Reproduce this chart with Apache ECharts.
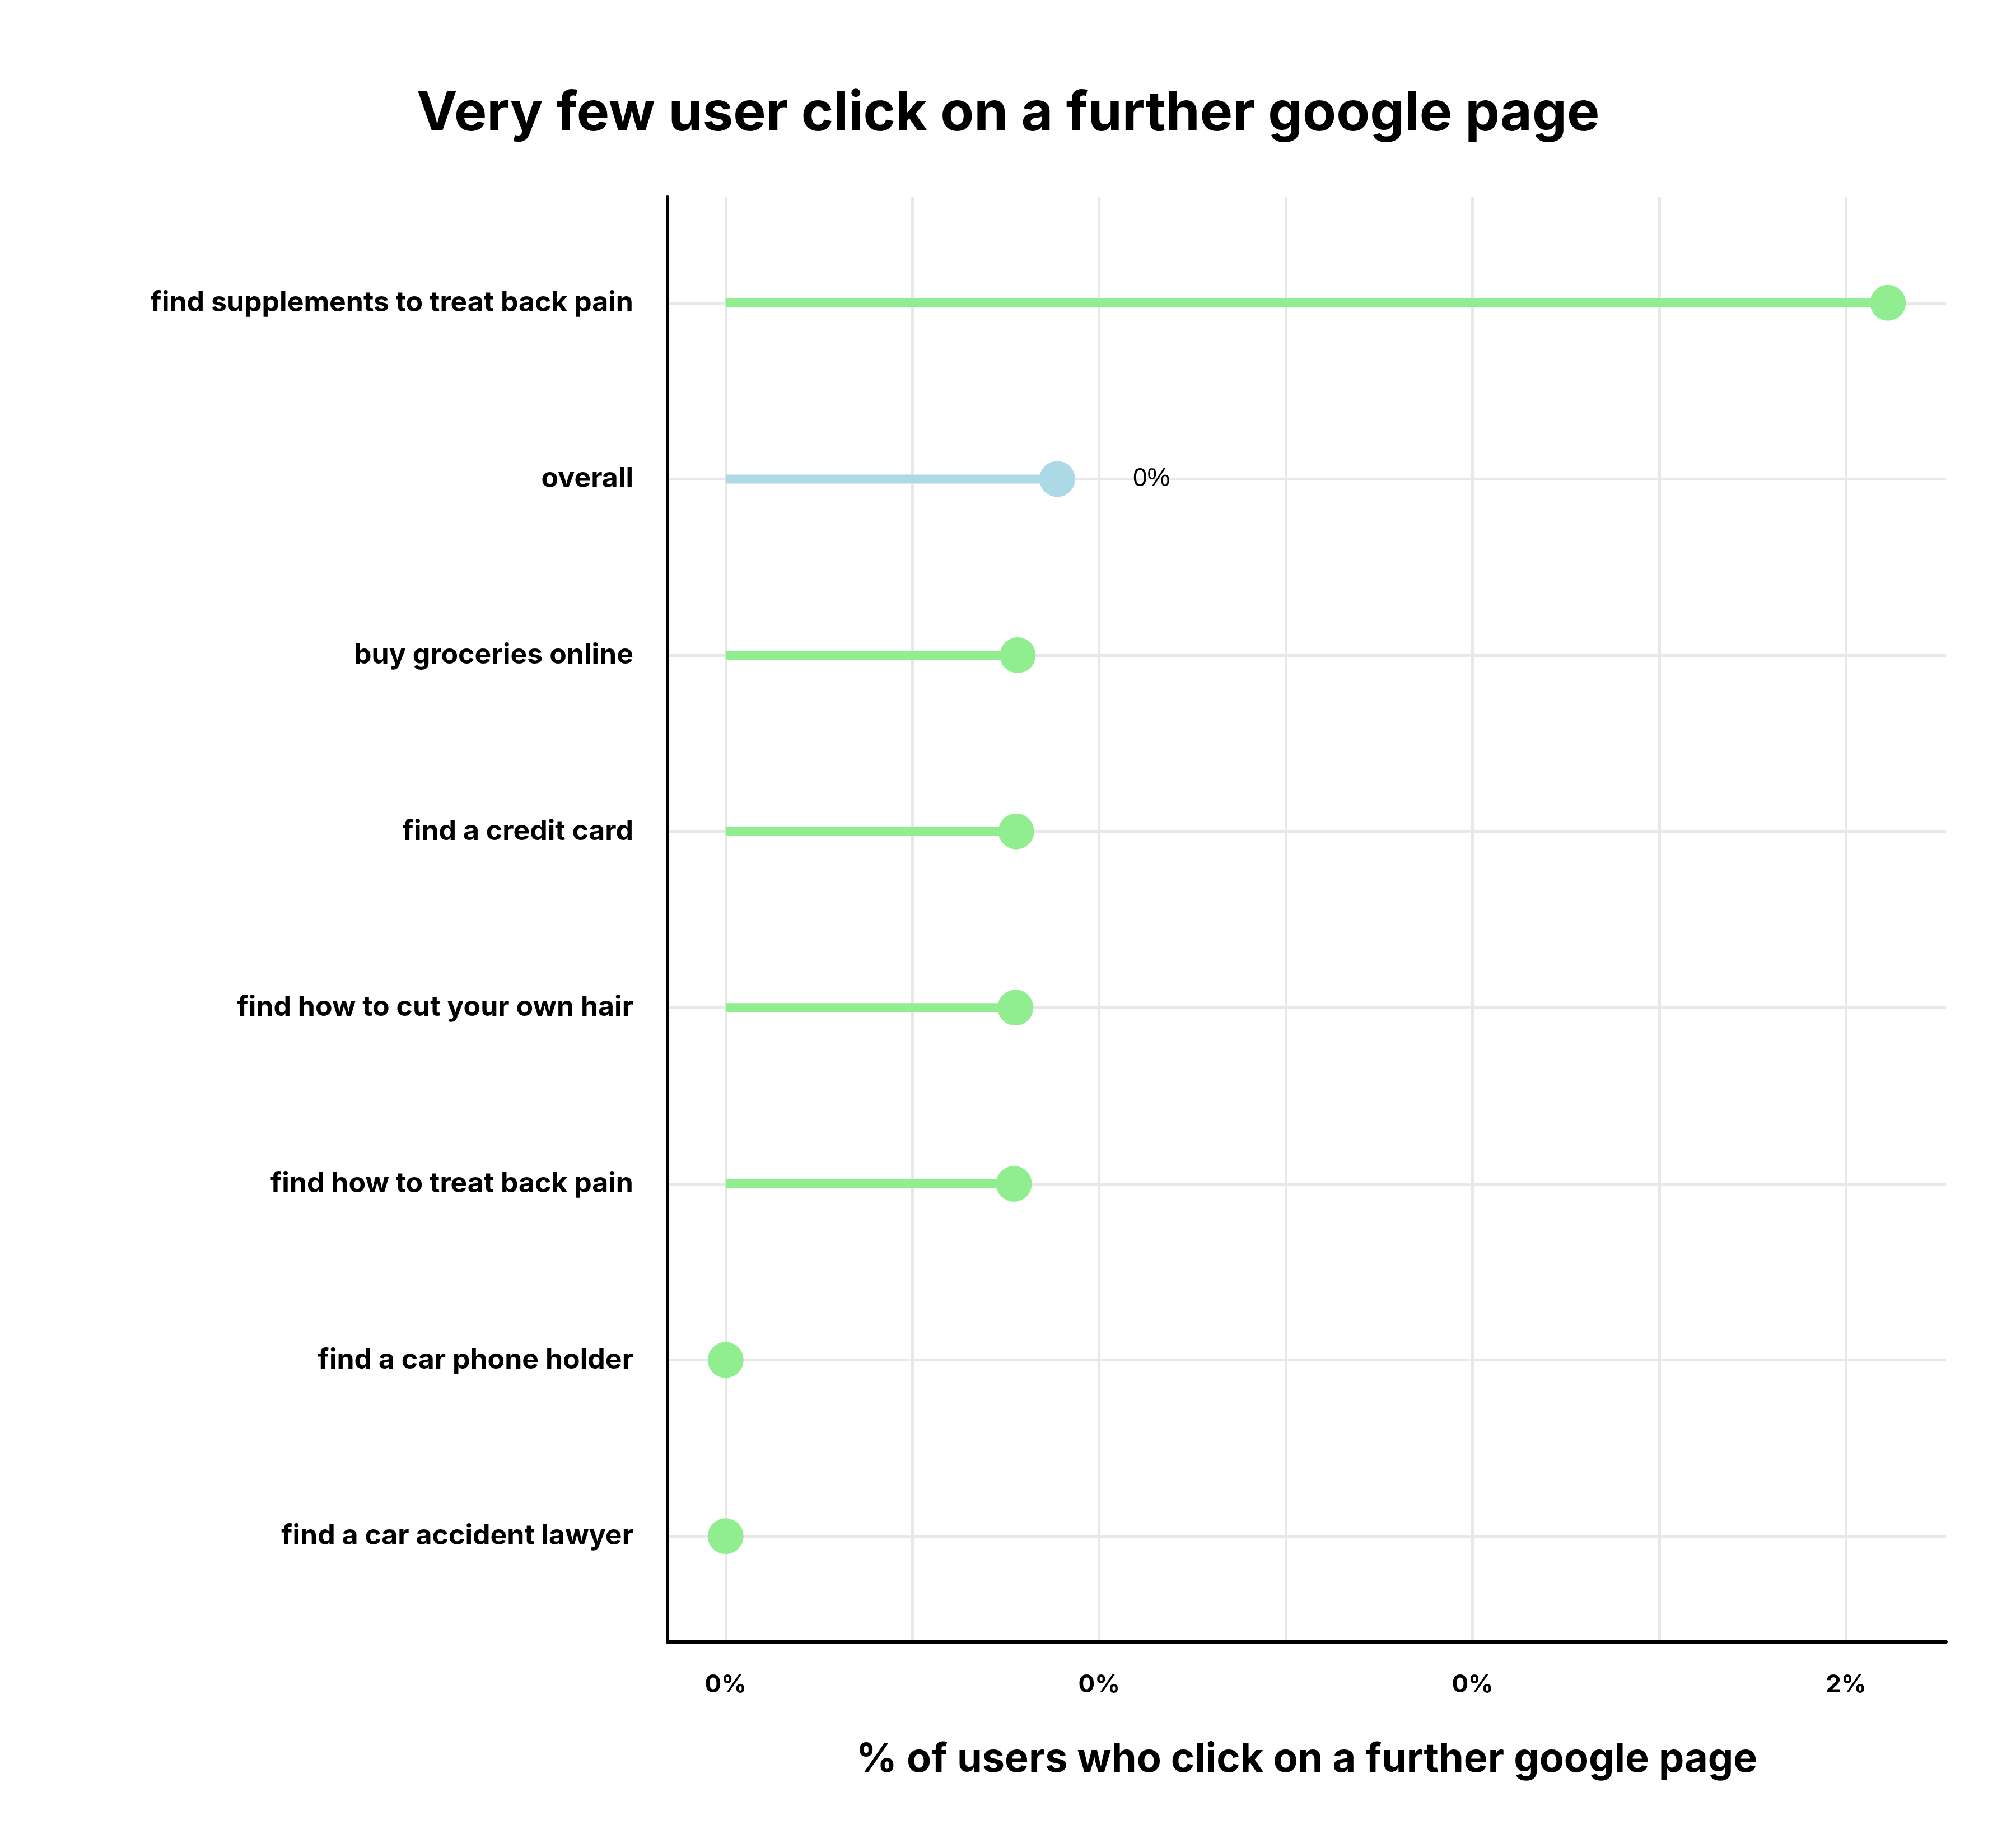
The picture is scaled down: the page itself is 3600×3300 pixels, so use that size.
<!DOCTYPE html>
<html>
<head>
<meta charset="utf-8">
<script src="https://cdn.jsdelivr.net/npm/echarts@6/dist/echarts.min.js"></script>
<style>
html,body{margin:0;padding:0;background:#fff;}
#chart{width:3600px;height:3300px;}
</style>
</head>
<body>
<div id="chart"></div>
<script>
// ---- data ----
const categories = [
  'find supplements to treat back pain',
  'overall',
  'buy groceries online',
  'find a credit card',
  'find how to cut your own hair',
  'find how to treat back pain',
  'find a car phone holder',
  'find a car accident lawyer'
];
const values = [1.556, 0.444, 0.391, 0.389, 0.388, 0.386, 0, 0];
const highlightCategory = 'overall';
const xTickValues = [0, 0.5, 1.0, 1.5];
const xTickLabels = ['0%', '0%', '0%', '2%'];
const xGridValues = [0, 0.25, 0.5, 0.75, 1.0, 1.25, 1.5];
const annotationCategory = 'overall';
const annotationText = '0%';
const titleText = 'Very few user click on a further google page';
const xAxisTitle = '% of users who click on a further google page';

// ---- styling ----
const GREEN = '#90EE90';
const BLUE = '#ADD8E6';
const FONT = 'Inter, "Open Sans", sans-serif';

const maxV = Math.max.apply(null, values);
const pad = maxV * 0.05;
const yIdx = categories.map((c, i) => i);

const points = values.map((v, i) => ({
  value: [v, i],
  itemStyle: { color: categories[i] === highlightCategory ? BLUE : GREEN, opacity: 1 },
  label: categories[i] === annotationCategory ? {
    show: true, position: 'right', distance: 103,
    formatter: annotationText, color: '#000',
    fontFamily: '"Liberation Sans", Arial, sans-serif', fontSize: 46, fontWeight: 'normal'
  } : { show: false }
}));

const chart = echarts.init(document.getElementById('chart'), null, { renderer: 'canvas' });
chart.setOption({
  animation: false,
  backgroundColor: '#fff',
  title: {
    text: titleText,
    left: 'center',
    top: 150,
    textStyle: { fontFamily: FONT, fontWeight: 'bold', fontSize: 98, color: '#000' }
  },
  grid: { left: 1192, right: 125, top: 352, bottom: 368, containLabel: false },
  xAxis: {
    type: 'value',
    min: -pad,
    max: maxV + pad,
    name: xAxisTitle,
    nameLocation: 'middle',
    nameGap: 174,
    nameTextStyle: { fontFamily: FONT, fontWeight: 'bold', fontSize: 72, color: '#000' },
    axisLine: { show: true, onZero: false, lineStyle: { color: '#000', width: 6 } },
    axisTick: { show: false, customValues: xGridValues },
    axisLabel: {
      customValues: xTickValues,
      formatter: function (v) {
        const k = xTickValues.findIndex(t => Math.abs(t - v) < 1e-9);
        return k >= 0 ? xTickLabels[k] : '';
      },
      margin: 55,
      fontFamily: FONT, fontWeight: 'bold', fontSize: 44, color: '#000'
    },
    splitLine: { show: true, lineStyle: { color: '#E8E8E8', width: 5 } }
  },
  yAxis: {
    type: 'value',
    inverse: true,
    min: -0.6,
    max: categories.length - 1 + 0.6,
    axisLine: { show: true, onZero: false, lineStyle: { color: '#000', width: 6 } },
    axisTick: { show: false, customValues: yIdx },
    axisLabel: {
      customValues: yIdx,
      formatter: function (v) { return categories[Math.round(v)] || ''; },
      margin: 61,
      fontFamily: FONT, fontWeight: 'bold', fontSize: 50, color: '#000'
    },
    splitLine: { show: true, lineStyle: { color: '#E8E8E8', width: 5 } }
  },
  series: [
    {
      type: 'custom',
      renderItem: function (params, api) {
        const i = api.value(1);
        const p0 = api.coord([0, i]);
        const p1 = api.coord([api.value(0), i]);
        return {
          type: 'line',
          shape: { x1: p0[0], y1: p0[1], x2: p1[0], y2: p1[1] },
          style: { stroke: categories[i] === highlightCategory ? BLUE : GREEN, lineWidth: 16, lineCap: 'butt' }
        };
      },
      data: values.map((v, i) => [v, i]),
      z: 3
    },
    {
      type: 'scatter',
      symbol: 'circle',
      symbolSize: 64,
      itemStyle: { opacity: 1 },
      data: points,
      z: 4
    }
  ]
});
</script>
</body>
</html>
